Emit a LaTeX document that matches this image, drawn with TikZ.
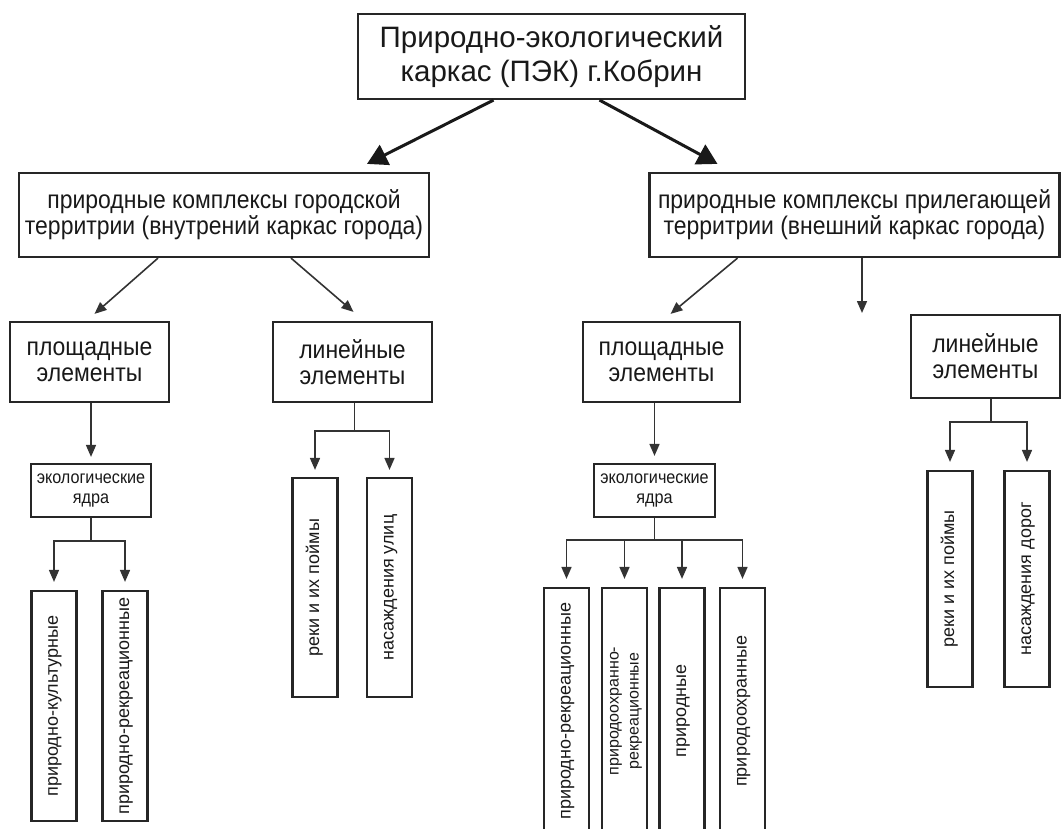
\documentclass[tikz,border=0pt]{standalone}
\usepackage{fontspec}
\setmainfont{Liberation Sans}
\newfontfamily\narrowfont[FakeStretch=0.9]{Liberation Sans} % узкий шрифт
\usepackage{graphicx}
\usetikzlibrary{arrows.meta}
\newcommand{\vt}[1]{\rotatebox{90}{\begin{tabular}{@{}c@{}}#1\end{tabular}}} % вертикальный текст

\begin{document}
\begin{tikzpicture}[x=1pt, y=-1pt, % 1pt = 1px, ось y вниз
  box/.style={draw=black!85, line width=2.2pt, inner sep=0pt, align=center, text=black!90},
  mid/.style={box, font=\narrowfont\fontsize{25.5}{26}\selectfont},
  vbox/.style={box, minimum width=45pt, font=\fontsize{18}{20}\selectfont},
  big/.style={line width=3pt, draw=black!90, -{Triangle[length=20pt,width=22pt]}},
  link/.style={line width=1.6pt, draw=black!80},
  arr/.style={link, -{Triangle[length=12pt,width=10pt]}}]
  \useasboundingbox (0,0) rectangle (1062,828); % поля как на рисунке
  % уровень 0 и 1
  \node[box, minimum width=387pt, minimum height=85pt, font=\fontsize{29.5}{34}\selectfont] (pek) at (551.5,56.5) {Природно-экологический\\каркас (ПЭК) г.Кобрин};
  \node[mid, minimum width=410pt, minimum height=84pt] (inner) at (224,215) {природные комплексы городской\\территрии (внутрений каркас города)};
  \node[mid, minimum width=410pt, minimum height=84pt] (outer) at (854.5,215) {природные комплексы прилегающей\\территрии (внешний каркас города)};
  \draw[big] ([xshift=-58pt]pek.south) -- ([xshift=143pt, yshift=8pt]inner.north);
  \draw[big] ([xshift=48pt]pek.south) -- ([xshift=-137pt, yshift=8pt]outer.north);
  % уровень 2
  \node[mid, minimum width=159pt, minimum height=80pt] (areaL) at (89.5,362) {площадные\\элементы};
  \node[mid, minimum width=159pt, minimum height=80pt] (lineL) at (352.5,362) {линейные\\элементы};
  \node[mid, minimum width=157pt, minimum height=80pt] (areaR) at (661.5,362) {площадные\\элементы};
  \node[mid, minimum width=149pt, minimum height=83pt] (lineR) at (985.5,356.5) {линейные\\элементы};
  \coordinate (gap) at (862,313); % стрелка в пустоту
  \draw[arr] ([xshift=-66pt]inner.south) -- ([xshift=5pt, yshift=7pt]areaL.north);
  \draw[arr] ([xshift=67pt]inner.south) -- ([xshift=1pt, yshift=9pt]lineL.north);
  \draw[arr] ([xshift=-117pt]outer.south) -- ([xshift=9pt, yshift=7pt]areaR.north);
  \draw[arr] ([xshift=7.5pt]outer.south) -- (gap);
  % экологические ядра
  \node[box, minimum width=120pt, minimum height=53pt, font=\narrowfont\fontsize{18}{20}\selectfont] (coreL) at (91,490.5) {экологические\\ядра};
  \node[box, minimum width=121pt, minimum height=53pt, font=\narrowfont\fontsize{18}{20}\selectfont] (coreR) at (654.5,490.5) {экологические\\ядра};
  \draw[arr, shorten >=6pt] (coreL.north |- areaL.south) -- (coreL.north);
  \draw[arr, shorten >=7pt] (coreR.north |- areaR.south) -- (coreR.north);
  % вертикальные блоки
  \node[vbox, minimum height=230pt] (kult) at (54,706) {\vt{природно-культурные}};
  \node[vbox, minimum height=230pt] (rekrL) at (125,706) {\vt{природно-рекреационные}};
  \node[vbox, minimum height=219pt] (riverL) at (315,587.5) {\vt{реки и их поймы}};
  \node[vbox, minimum height=219pt] (streets) at (389.5,587.5) {\vt{насаждения улиц}};
  \node[vbox, minimum height=246pt] (rekrR) at (566.5,711) {\vt{природно-рекреационные}};
  \node[vbox, minimum height=246pt, font=\fontsize{16}{20}\selectfont] (ohrRekr) at (624.5,711) {\vt{природоохранно-\\рекреационные}};
  \node[vbox, minimum height=246pt] (natural) at (682,711) {\vt{природные}};
  \node[vbox, minimum height=246pt] (ohr) at (742.5,711) {\vt{природоохранные}};
  \node[vbox, minimum height=216pt] (riverR) at (950,579) {\vt{реки и их поймы}};
  \node[vbox, minimum height=216pt] (roads) at (1027,579) {\vt{насаждения дорог}};
  % ветвления
  \draw[link] (coreL.south) -- ++(0,23) coordinate (jL);
  \foreach \n in {kult,rekrL} \draw[arr, shorten >=8pt] (jL) -| (\n.north);
  \draw[link] ([xshift=2pt]lineL.south) -- ++(0,28) coordinate (jLL);
  \foreach \n in {riverL,streets} \draw[arr, shorten >=7pt] (jLL) -| (\n.north);
  \draw[link] (coreR.south) -- ++(0,22) coordinate (jR);
  \foreach \n in {rekrR,ohrRekr,natural,ohr} \draw[arr, shorten >=8pt] (jR) -| (\n.north);
  \draw[link] ([xshift=5.5pt]lineR.south) -- ++(0,23) coordinate (jRL);
  \foreach \n in {riverR,roads} \draw[arr, shorten >=8pt] (jRL) -| (\n.north);
\end{tikzpicture}
\end{document}
